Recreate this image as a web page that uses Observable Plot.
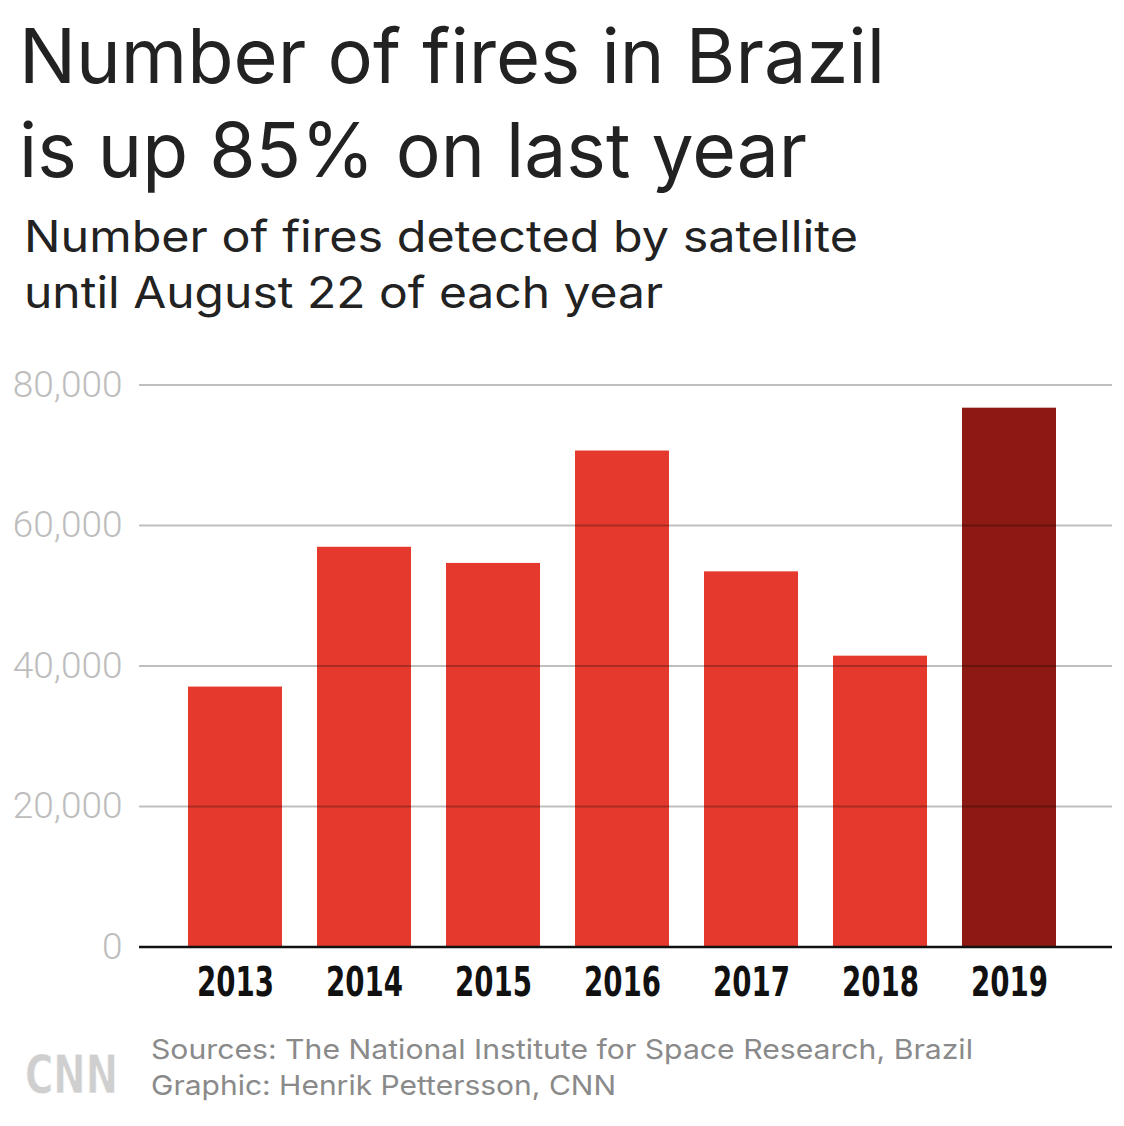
<!DOCTYPE html>
<html>
<head>
<meta charset="utf-8">
<script src="https://cdn.jsdelivr.net/npm/d3@7"></script>
<script src="https://cdn.jsdelivr.net/npm/@observablehq/plot@0.6"></script>
<style>
  html, body { margin: 0; padding: 0; background: #fff; }
  #page { position: relative; width: 1124px; height: 1126px; overflow: hidden; background: #fff; }
  .line { position: absolute; white-space: nowrap; line-height: 1; font-family: Inter, "Noto Sans", sans-serif; transform-origin: 0 0; }
  .title { font-size: 76px; color: #222; font-weight: 400; left: 19px; }
  .sub { font-size: 44px; color: #222; font-weight: 400; left: 24px; }
  .foot { font-size: 27.5px; color: #8a8a8a; font-weight: 400; left: 151px; }
  #chart { position: absolute; left: 0; top: 340px; }
  #logo { position: absolute; left: 20px; top: 1044px; overflow: visible; }
</style>
</head>
<body>
<div id="page">
  <div class="line title" style="top:17px" data-w="866">Number of fires in Brazil</div>
  <div class="line title" style="top:111px" data-w="788">is up 85% on last year</div>
  <div class="line sub" style="top:214px" data-w="834">Number of fires detected by satellite</div>
  <div class="line sub" style="top:270px" data-w="639">until August 22 of each year</div>
  <div id="chart"></div>
  <svg id="logo" width="110" height="56" viewBox="0 0 110 56">
    <text x="5" y="49" font-family="'DejaVu Sans', sans-serif" font-weight="bold" font-size="54" fill="#cfcfcf" stroke="#ffffff" stroke-width="0.8" textLength="93" lengthAdjust="spacingAndGlyphs">CNN</text>
  </svg>
  <div class="line foot" style="top:1036px" data-w="822">Sources: The National Institute for Space Research, Brazil</div>
  <div class="line foot" style="top:1072px" data-w="465">Graphic: Henrik Pettersson, CNN</div>
</div>
<script>
// Data
const years = ["2013", "2014", "2015", "2016", "2017", "2018", "2019"];
const fires = [37000, 56900, 54600, 70600, 53400, 41400, 76700];
const yTicks = [0, 20000, 40000, 60000, 80000];
const highlightYear = "2019";

const data = years.map((year, i) => ({year, fires: fires[i]}));

const red = "#e4392c";
const darkRed = "#8c1a12";

const chart = Plot.plot({
  width: 1124,
  height: 680,
  marginTop: 44.5,
  marginBottom: 73.5,
  marginLeft: 139,
  marginRight: 12,
  style: {background: "#fff", overflow: "visible"},
  x: {domain: years, paddingInner: 0.275, paddingOuter: 0.39, align: 0.465, label: null},
  y: {domain: [0, 80000], label: null},
  marks: [
    Plot.barY(data, {x: "year", y: "fires", fill: d => d.year === highlightYear ? darkRed : red}),
    Plot.gridY(yTicks.filter(t => t > 0), {stroke: "#000", strokeOpacity: 0.25, strokeWidth: 2}),
    Plot.ruleY([0], {stroke: "#111", strokeWidth: 2.5}),
    Plot.axisY(yTicks, {
      tickSize: 0, tickPadding: 17, tickFormat: d3.format(","),
      fontSize: 37, fontFamily: "Roboto, sans-serif", fontWeight: 300, fill: "#bdbdbd", label: null
    }),
    Plot.axisX({
      tickSize: 0, tickPadding: 20,
      fontSize: 41, fontFamily: "'Liberation Sans Narrow', 'DejaVu Sans Condensed', 'DejaVu Sans', sans-serif",
      fontWeight: "bold", fill: "#111", label: null
    })
  ]
});
document.getElementById("chart").appendChild(chart);

// condense the year labels like the reference's condensed bold face
chart.querySelectorAll("text").forEach(t => {
  if (years.includes(t.textContent.trim())) {
    t.setAttribute("textLength", "77");
    t.setAttribute("lengthAdjust", "spacingAndGlyphs");
  }
});

// fit text line widths to the reference
document.querySelectorAll(".line[data-w]").forEach(el => {
  el.style.display = "inline-block";
  const w = el.getBoundingClientRect().width;
  const target = +el.dataset.w;
  if (w > 0) el.style.transform = `scaleX(${target / w})`;
});
</script>
</body>
</html>
